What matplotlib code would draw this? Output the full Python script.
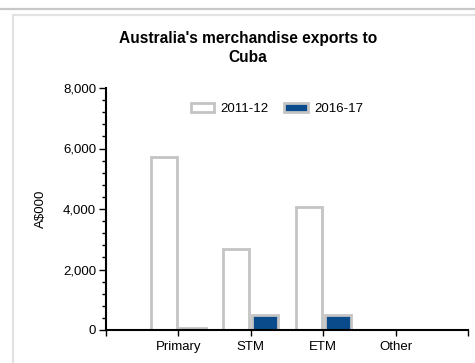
import matplotlib.pyplot as plt
from matplotlib.lines import Line2D
from matplotlib.patches import Rectangle
from matplotlib.ticker import MultipleLocator, FuncFormatter

categories = ["Primary", "STM", "ETM", "Other"]
exports_2011 = [5720, 2680, 4070, 0]
exports_2016 = [60, 480, 500, 0]
series_labels = ["2011-12", "2016-17"]

plt.rcParams["font.family"] = ["Liberation Sans", "DejaVu Sans"]

fig = plt.figure(figsize=(4.75, 3.63), dpi=100)

# frame decorations around the chart panel
fig.add_artist(Line2D([0, 1], [1 - 9 / 363, 1 - 9 / 363], color="#c8c8c8", lw=1.6,
                      transform=fig.transFigure))
fig.add_artist(Rectangle((13 / 475, -0.05), 1.0, 1 - 15 / 363 + 0.05, fill=False,
                         edgecolor="#e2e2e2", lw=1.6, transform=fig.transFigure))

ax = fig.add_axes([106 / 475, 1 - 330 / 363, 362 / 475, 242 / 363])

x = list(range(1, len(categories) + 1))
w = 0.36
ax.bar([i - 0.2 for i in x], exports_2011, width=w, color="white",
       edgecolor="#c4c4c4", linewidth=2, label=series_labels[0])
ax.bar([i + 0.2 for i in x], exports_2016, width=w, color="#0a4b8c",
       edgecolor="#c4c4c4", linewidth=2, label=series_labels[1])

ax.set_xlim(0, 5)
ax.set_ylim(0, 8000)
ax.set_xticks(range(0, 6))
ax.set_xticklabels([""] + categories + [""], fontsize=9.5)
ax.yaxis.set_major_locator(MultipleLocator(2000))
ax.yaxis.set_minor_locator(MultipleLocator(400))
ax.yaxis.set_major_formatter(FuncFormatter(lambda v, p: f"{int(v):,}"))
ax.tick_params(axis="y", labelsize=9.5, length=5, width=1, pad=2)
ax.tick_params(axis="y", which="minor", length=3, width=1)
ax.tick_params(axis="x", length=4, width=1, pad=4)

for s in ["top", "right"]:
    ax.spines[s].set_visible(False)
ax.spines["left"].set_linewidth(1.5)
ax.spines["bottom"].set_linewidth(1.5)

ax.set_ylabel("A$000", fontsize=9.5, labelpad=12)
ax.set_title("Australia's merchandise exports to\nCuba", fontsize=11.2,
             fontweight="bold", pad=19, x=0.392, linespacing=1.3)

ax.legend(loc="center", bbox_to_anchor=(0.472, 0.912), ncol=2, frameon=False,
          fontsize=9.5, handlelength=1.8, handleheight=0.65, columnspacing=1.2,
          handletextpad=0.45)

fig.savefig("out.png", dpi=100)
